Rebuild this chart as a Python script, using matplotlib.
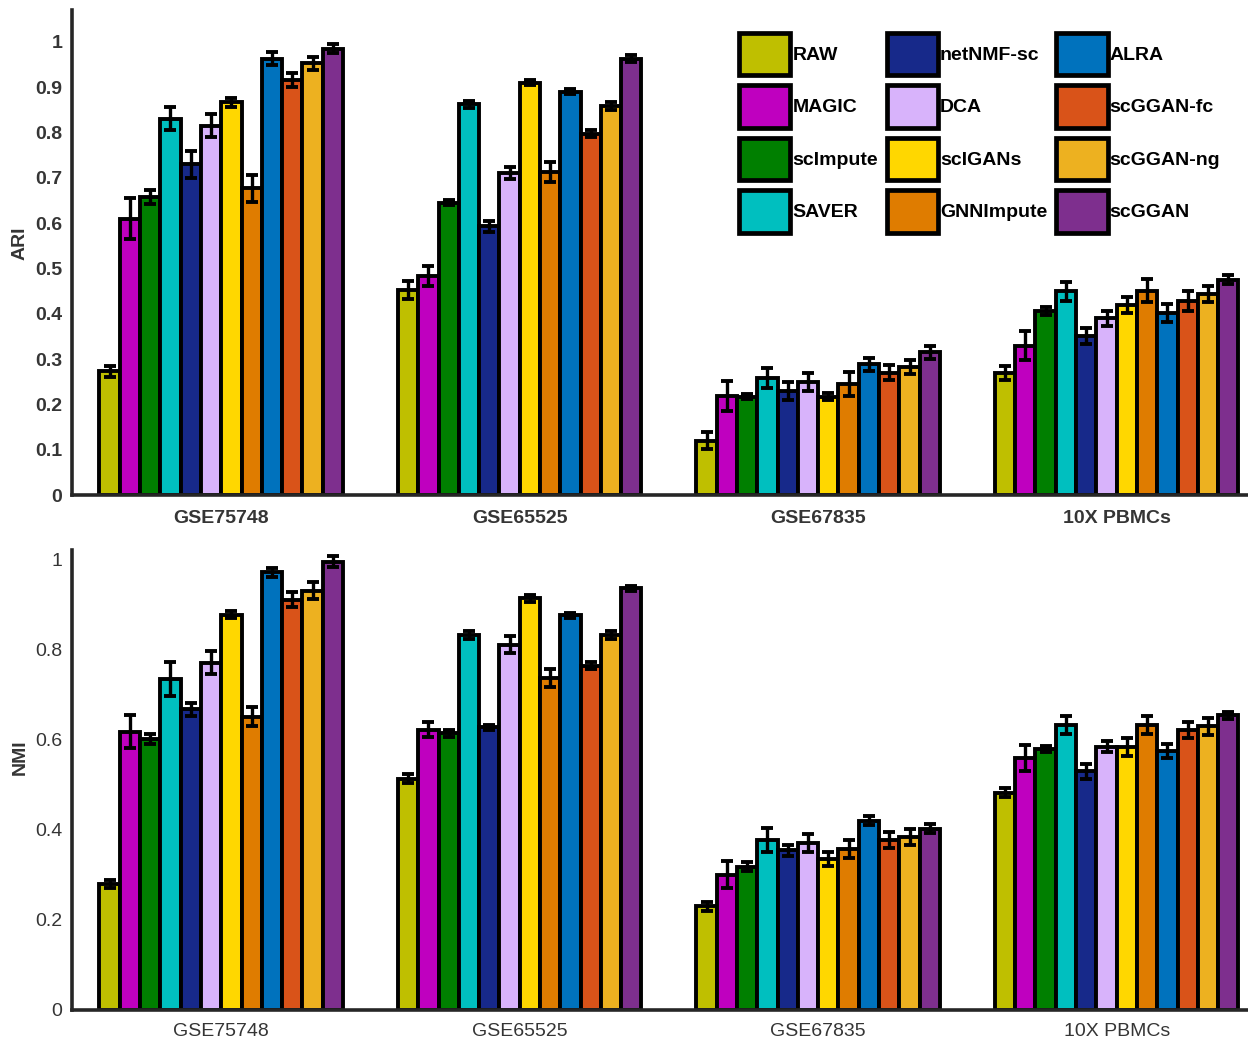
import numpy as np
import matplotlib
matplotlib.use("Agg")
import matplotlib.pyplot as plt
from matplotlib.patches import Patch

plt.rcParams["font.family"] = ["Liberation Sans", "DejaVu Sans"]

# ---- data -------------------------------------------------------------
methods = ["RAW", "MAGIC", "scImpute", "SAVER", "netNMF-sc", "DCA",
           "scIGANs", "GNNImpute", "ALRA", "scGGAN-fc", "scGGAN-ng", "scGGAN"]
colors = ["#bfbf00", "#bf00bf", "#007f00", "#00bfbf", "#17298a", "#d8b3fb",
          "#ffd700", "#df7c00", "#0072bd", "#d95319", "#edb120", "#7e2f8e"]
datasets = ["GSE75748", "GSE65525", "GSE67835", "10X PBMCs"]

# ARI (mean, error) per dataset, one value per method
ari_gse75748 = [0.273, 0.610, 0.658, 0.830, 0.730, 0.815, 0.866, 0.677, 0.963, 0.916, 0.952, 0.985]
ari_gse75748_err = [0.012, 0.045, 0.015, 0.025, 0.030, 0.025, 0.010, 0.030, 0.015, 0.015, 0.015, 0.010]
ari_gse65525 = [0.452, 0.484, 0.645, 0.862, 0.593, 0.710, 0.910, 0.712, 0.890, 0.797, 0.858, 0.963]
ari_gse65525_err = [0.020, 0.022, 0.006, 0.008, 0.012, 0.013, 0.006, 0.022, 0.006, 0.008, 0.008, 0.008]
ari_gse67835 = [0.120, 0.218, 0.217, 0.258, 0.230, 0.250, 0.217, 0.245, 0.288, 0.270, 0.282, 0.315]
ari_gse67835_err = [0.018, 0.033, 0.006, 0.022, 0.020, 0.020, 0.008, 0.027, 0.015, 0.017, 0.015, 0.014]
ari_pbmc = [0.269, 0.329, 0.406, 0.449, 0.351, 0.390, 0.419, 0.451, 0.402, 0.427, 0.443, 0.475]
ari_pbmc_err = [0.016, 0.032, 0.008, 0.021, 0.017, 0.017, 0.017, 0.025, 0.020, 0.022, 0.017, 0.010]

# NMI (mean, error) per dataset, one value per method
nmi_gse75748 = [0.280, 0.618, 0.602, 0.735, 0.668, 0.772, 0.878, 0.652, 0.973, 0.912, 0.932, 0.996]
nmi_gse75748_err = [0.008, 0.037, 0.012, 0.038, 0.014, 0.026, 0.008, 0.021, 0.010, 0.017, 0.018, 0.012]
nmi_gse65525 = [0.514, 0.623, 0.615, 0.833, 0.628, 0.812, 0.915, 0.737, 0.877, 0.765, 0.833, 0.937]
nmi_gse65525_err = [0.010, 0.017, 0.008, 0.008, 0.006, 0.018, 0.008, 0.020, 0.006, 0.008, 0.008, 0.006]
nmi_gse67835 = [0.230, 0.300, 0.318, 0.378, 0.355, 0.370, 0.335, 0.358, 0.420, 0.378, 0.385, 0.403]
nmi_gse67835_err = [0.010, 0.030, 0.010, 0.026, 0.012, 0.020, 0.015, 0.020, 0.010, 0.018, 0.018, 0.010]
nmi_pbmc = [0.483, 0.560, 0.580, 0.633, 0.530, 0.585, 0.585, 0.633, 0.575, 0.622, 0.630, 0.655]
nmi_pbmc_err = [0.010, 0.028, 0.007, 0.020, 0.017, 0.012, 0.020, 0.020, 0.015, 0.018, 0.018, 0.008]

ari_yticks = [0, 0.1, 0.2, 0.3, 0.4, 0.5, 0.6, 0.7, 0.8, 0.9, 1]
ari_yticklabels = ["0", "0.1", "0.2", "0.3", "0.4", "0.5", "0.6", "0.7", "0.8", "0.9", "1"]
nmi_yticks = [0, 0.2, 0.4, 0.6, 0.8, 1]
nmi_yticklabels = ["0", "0.2", "0.4", "0.6", "0.8", "1"]

# ---- figure -----------------------------------------------------------
W, H = 1248, 1042
fig = plt.figure(figsize=(W / 100, H / 100), dpi=100)
ax_ari = fig.add_axes([72 / W, (H - 495) / H, 1 - 72 / W, (495 - 10) / H])
ax_nmi = fig.add_axes([72 / W, (H - 1010) / H, 1 - 72 / W, (1010 - 550) / H])

SPINE = "#262626"
TICKC = "#353535"
bar_w = 0.068


def draw_panel(ax, means, errs, ymax, yticks, yticklabels, ylabel, bold_ticks, label_y):
    means = np.array(means)
    errs = np.array(errs)
    x = np.arange(1, len(datasets) + 1)
    n = len(methods)
    for i in range(n):
        pos = x + (i - (n - 1) / 2) * bar_w
        ax.bar(pos, means[:, i], bar_w, color=colors[i], edgecolor="black",
               linewidth=2.8, zorder=2)
        ax.errorbar(pos, means[:, i], yerr=errs[:, i], fmt="none", ecolor="black",
                    elinewidth=2.4, capsize=4.4, capthick=2.8, zorder=3)
    ax.set_xlim(0.5, 4.44)
    ax.set_ylim(0, ymax)
    ax.set_xticks(x)
    ax.set_xticklabels(datasets)
    ax.set_yticks(yticks)
    ax.set_yticklabels(yticklabels)
    weight = "bold" if bold_ticks else "normal"
    for lab in ax.get_xticklabels() + ax.get_yticklabels():
        lab.set_fontsize(14)
        lab.set_fontweight(weight)
        lab.set_color(TICKC)
    ax.tick_params(axis="both", length=0)
    ax.tick_params(axis="y", pad=7)
    ax.tick_params(axis="x", pad=11 if bold_ticks else 9)
    for s in ("top", "right"):
        ax.spines[s].set_visible(False)
    for s in ("left", "bottom"):
        ax.spines[s].set_color(SPINE)
        ax.spines[s].set_linewidth(2.6)
    ax.set_ylabel(ylabel, fontsize=14, fontweight="bold", color=TICKC)
    ax.yaxis.set_label_coords(-0.037, label_y)


draw_panel(ax_ari,
           [ari_gse75748, ari_gse65525, ari_gse67835, ari_pbmc],
           [ari_gse75748_err, ari_gse65525_err, ari_gse67835_err, ari_pbmc_err],
           1.07, ari_yticks, ari_yticklabels, "ARI", True, 0.52)
draw_panel(ax_nmi,
           [nmi_gse75748, nmi_gse65525, nmi_gse67835, nmi_pbmc],
           [nmi_gse75748_err, nmi_gse65525_err, nmi_gse67835_err, nmi_pbmc_err],
           1.022, nmi_yticks, nmi_yticklabels, "NMI", False, 0.55)

# legend: 3 columns x 4 rows of outlined colour swatches
handles = [Patch(facecolor=c, edgecolor="black", linewidth=3.4) for c in colors]
leg = ax_ari.legend(handles, methods, ncol=3, loc="upper left",
                    bbox_to_anchor=(0.567, 0.953), frameon=False,
                    borderpad=0, borderaxespad=0,
                    handlelength=2.65, handleheight=3.0, handletextpad=0.1,
                    labelspacing=0.5, columnspacing=0.45,
                    prop={"size": 14, "weight": "bold"})

fig.savefig("out.png", dpi=100)
